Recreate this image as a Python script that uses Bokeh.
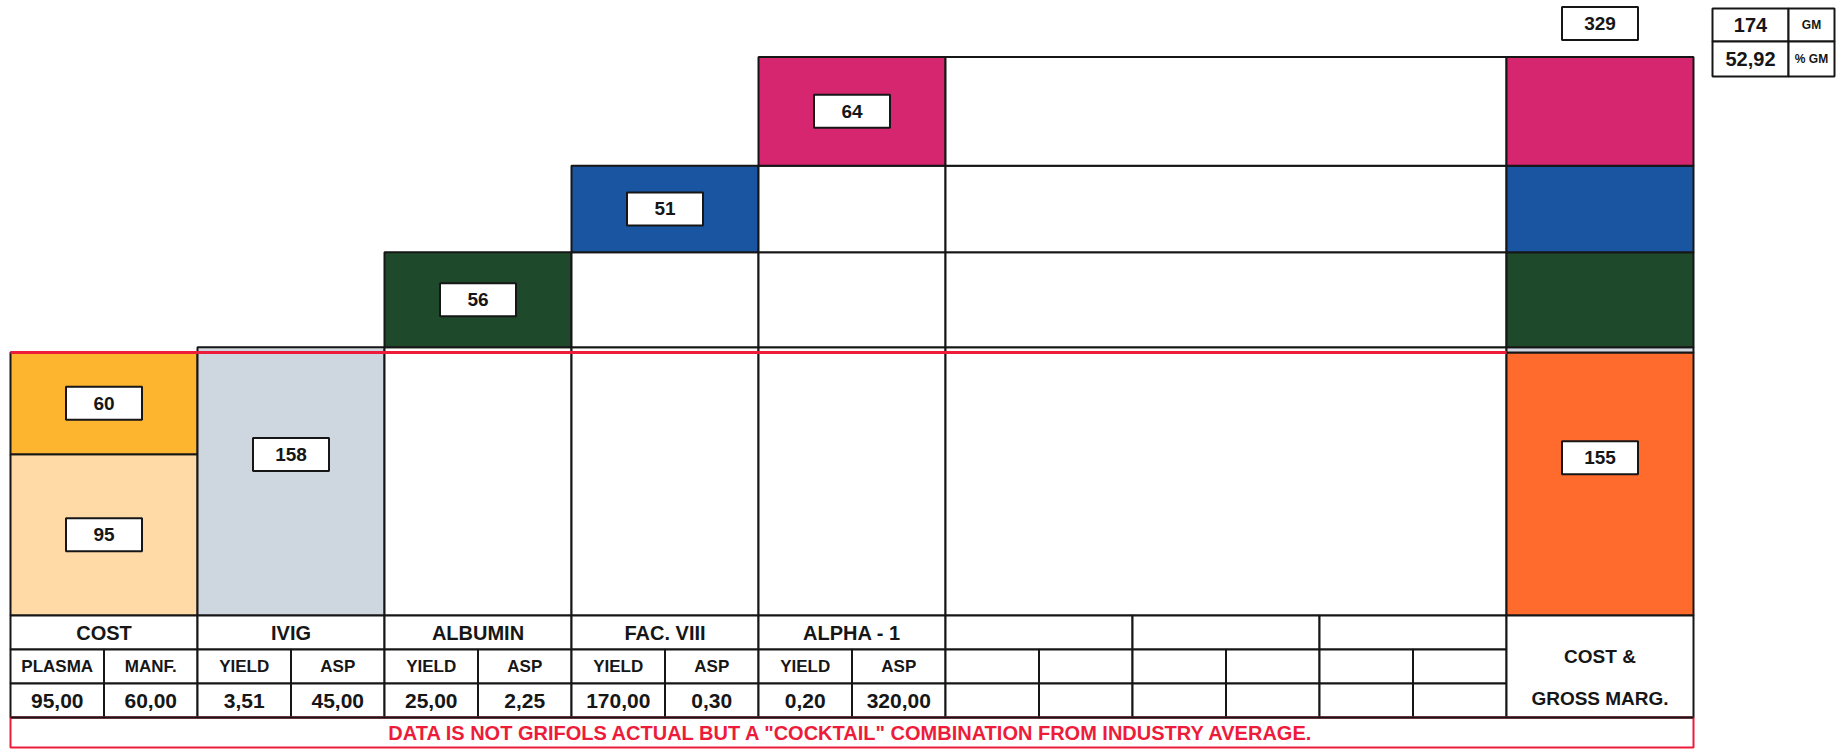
from bokeh.plotting import figure
from bokeh.models import Range1d, ColumnDataSource
from bokeh.core.properties import value
from bokeh.embed import file_html
from bokeh.resources import INLINE

# ---------------- data ----------------
cost_parts = ["PLASMA", "MANF."]
cost_values = [95.00, 60.00]
products = ["IVIG", "ALBUMIN", "FAC. VIII", "ALPHA - 1"]
product_yield = [3.51, 25.00, 170.00, 0.20]
product_asp = [45.00, 2.25, 0.30, 320.00]
product_revenue = [158, 56, 51, 64]
cost_total = 155
revenue_total = 329
gross_margin = 174
gross_margin_pct = "52,92"
gm_labels = ["GM", "% GM"]
right_header = ["COST &", "GROSS MARG."]
note_text = 'DATA IS NOT GRIFOLS ACTUAL BUT A "COCKTAIL" COMBINATION FROM INDUSTRY AVERAGE.'

# ---------------- styling ----------------
cost_colors = ["#FFDAA6", "#FDB52F"]
product_colors = ["#CED6DF", "#1E4A2B", "#1A55A2", "#D5266F"]
total_cost_color = "#FF6B2C"
red = "#EC1C3A"
ink = "#161616"
FONT = value("Liberation Sans")

W, H = 1845, 750
COLW = 187.0          # px per column unit
X0 = 10.0             # px of column 0 inside the canvas
ZERO_S = 615.0        # px (from top) of value 0
TOP_S = 56.5          # px (from top) of total revenue
PX = (ZERO_S - TOP_S) / revenue_total


def vy(s):
    return (ZERO_S - s) / PX


def vx(s):
    return (s - X0) / COLW


p = figure(width=W, height=H, output_backend="svg", toolbar_location=None,
           x_range=Range1d(vx(0), vx(W)), y_range=Range1d(vy(H), vy(0)),
           min_border=0, x_axis_location=None, y_axis_location=None)
p.grid.visible = False
p.outline_line_color = None
p.background_fill_color = "white"
p.border_fill_color = "white"

# ---------------- waterfall stacks ----------------
cum = [0]
for r in product_revenue:
    cum.append(cum[-1] + r)

L, R, B, T, C = [], [], [], [], []


def seg(l, r, b, t, c):
    L.append(l); R.append(r); B.append(b); T.append(t); C.append(c)


# cost column
base = 0
for v, c in zip(cost_values, cost_colors):
    seg(0, 1, base, base + v, c)
    base += v
# product columns
for i, (rev, c) in enumerate(zip(product_revenue, product_colors)):
    col = i + 1
    for j in range(i):
        seg(col, col + 1, cum[j], cum[j + 1], "white")
    seg(col, col + 1, cum[i], cum[i + 1], c)
# empty spread column
n_prod = len(products)
for j in range(n_prod):
    seg(n_prod + 1, n_prod + 4, cum[j], cum[j + 1], "white")
# cost & gross margin column
rc = n_prod + 4
seg(rc, rc + 1, 0, cost_total, total_cost_color)
seg(rc, rc + 1, cost_total, cum[1], product_colors[0])
for j in range(1, n_prod):
    seg(rc, rc + 1, cum[j], cum[j + 1], product_colors[j])

p.quad(left="l", right="r", bottom="b", top="t", fill_color="c",
       line_color=ink, line_width=2,
       source=ColumnDataSource(dict(l=L, r=R, b=B, t=T, c=C)))

# red cost line
p.segment(x0=[0], y0=[cost_total], x1=[rc], y1=[cost_total], line_color=red, line_width=3)

# ---------------- value boxes ----------------
bx, by, bt = [], [], []
base = 0
for v in cost_values:
    bx.append(0.5); by.append(base + v / 2); bt.append(f"{v:.0f}")
    base += v
for i, rev in enumerate(product_revenue):
    frac = 0.6 if rev > 100 else 0.5
    bx.append(i + 1.5); by.append(cum[i] + rev * frac); bt.append(f"{rev}")
bx.append(rc + 0.5); by.append(cost_total * 0.6); bt.append(f"{cost_total}")
bx.append(rc + 0.5); by.append(revenue_total + 33.5 / PX); bt.append(f"{revenue_total}")

p.rect(x=bx, y=by, width=76, height=33, width_units="screen", height_units="screen",
       fill_color="white", line_color=ink, line_width=2)
p.text(x=bx, y=by, text=bt, text_align="center", text_baseline="middle",
       text_font=FONT, text_font_style="bold", text_font_size="19px", text_color=ink)

# ---------------- GM table ----------------
gx = [vx(1712), vx(1788), vx(1834)]
gy = [vy(8), vy(41), vy(76)]
ql, qr, qb, qt = [], [], [], []
for r in range(2):
    for c in range(2):
        ql.append(gx[c]); qr.append(gx[c + 1]); qt.append(gy[r]); qb.append(gy[r + 1])
p.quad(left=ql, right=qr, bottom=qb, top=qt, fill_color="white", line_color=ink, line_width=2)
gm_vals = [f"{gross_margin}", gross_margin_pct]
for r in range(2):
    ym = (gy[r] + gy[r + 1]) / 2
    p.text(x=[(gx[0] + gx[1]) / 2], y=[ym], text=[gm_vals[r]], text_align="center",
           text_baseline="middle", text_font=FONT, text_font_style="bold",
           text_font_size="20px", text_color=ink)
    p.text(x=[(gx[1] + gx[2]) / 2], y=[ym], text=[gm_labels[r]], text_align="center",
           text_baseline="middle", text_font=FONT, text_font_style="bold",
           text_font_size="12px", text_color=ink)

# ---------------- bottom table ----------------
rows = [vy(615), vy(649), vy(683), vy(717), vy(747)]
headers = ["COST"] + products
sub = [cost_parts] + [["YIELD", "ASP"] for _ in products]
vals = [cost_values] + [[y, a] for y, a in zip(product_yield, product_asp)]


def fmt(v):
    return f"{v:.2f}".replace(".", ",")


tl, tr, tb, tt = [], [], [], []
for col in range(rc):
    tl.append(col); tr.append(col + 1); tt.append(rows[0]); tb.append(rows[1])
    for r in (1, 2):
        for h in range(2):
            tl.append(col + h * 0.5); tr.append(col + h * 0.5 + 0.5)
            tt.append(rows[r]); tb.append(rows[r + 1])
tl.append(rc); tr.append(rc + 1); tt.append(rows[0]); tb.append(rows[3])
p.quad(left=tl, right=tr, bottom=tb, top=tt, fill_color="white", line_color=ink, line_width=2)

hx, hy, ht = [], [], []
vx_, vy_, vt = [], [], []
sx, sy, st = [], [], []
for k, h in enumerate(headers):
    hx.append(k + 0.5); hy.append((rows[0] + rows[1]) / 2); ht.append(h)
    for hh in range(2):
        sx.append(k + 0.25 + hh * 0.5); sy.append((rows[1] + rows[2]) / 2); st.append(sub[k][hh])
        vx_.append(k + 0.25 + hh * 0.5); vy_.append((rows[2] + rows[3]) / 2); vt.append(fmt(vals[k][hh]))
p.text(x=hx, y=hy, text=ht, text_align="center", text_baseline="middle",
       text_font=FONT, text_font_style="bold", text_font_size="20px", text_color=ink)
p.text(x=vx_, y=vy_, text=vt, text_align="center", text_baseline="middle",
       text_font=FONT, text_font_style="bold", text_font_size="21px", text_color=ink)
p.text(x=sx, y=sy, text=st, text_align="center", text_baseline="middle",
       text_font=FONT, text_font_style="bold", text_font_size="17px", text_color=ink)
p.text(x=[rc + 0.5, rc + 0.5], y=[vy(656), vy(698)], text=right_header,
       text_align="center", text_baseline="middle", text_font=FONT,
       text_font_style="bold", text_font_size="19px", text_color=ink)

# note row
p.quad(left=[0], right=[rc + 1], bottom=[rows[4]], top=[rows[3]], fill_color=None,
       line_color=red, line_width=2)
p.segment(x0=[0], y0=[rows[3]], x1=[rc + 1], y1=[rows[3]], line_color=ink, line_width=2)
p.text(x=[(rc + 1) / 2], y=[(rows[3] + rows[4]) / 2], text=[note_text], text_align="center",
       text_baseline="middle", text_font=FONT, text_font_style="bold",
       text_font_size="20px", text_color=red)

open("out.html", "w").write(file_html(p, INLINE))
